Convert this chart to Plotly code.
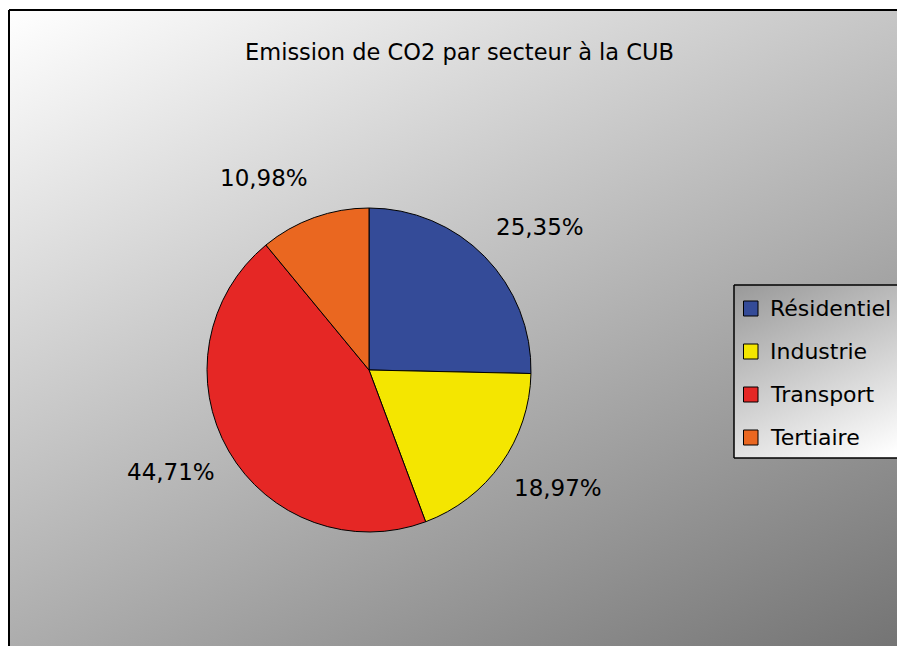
import base64
import math
import plotly.graph_objects as go

secteurs = ["Résidentiel", "Industrie", "Transport", "Tertiaire"]
emissions = [25.35, 18.97, 44.71, 10.98]
couleurs = ["#344b98", "#f4e600", "#e52725", "#ea6720"]
titre = "Emission de CO2 par secteur à la CUB"

W, H = 897, 646
FONT = "Comic Sans MS, DejaVu Sans, sans-serif"


def svg_gradient(w, h, x2, y2, c1, c2):
    svg = (
        f'<svg xmlns="http://www.w3.org/2000/svg" width="{w}" height="{h}" '
        f'viewBox="0 0 {w} {h}" preserveAspectRatio="none">'
        f'<defs><linearGradient id="g" gradientUnits="userSpaceOnUse" x1="0" y1="0" x2="{x2}" y2="{y2}">'
        f'<stop offset="0" stop-color="{c1}"/><stop offset="1" stop-color="{c2}"/></linearGradient></defs>'
        f'<rect width="{w}" height="{h}" fill="url(#g)"/></svg>'
    )
    return "data:image/svg+xml;base64," + base64.b64encode(svg.encode()).decode()


def px(x):
    return x / W


def py(y):
    return 1 - y / H


# pie placement (pixels)
cx, cy, R = 369, 370, 162

fig = go.Figure(go.Pie(
    labels=secteurs, values=emissions, sort=False, direction="clockwise",
    rotation=0, textinfo="none", showlegend=False, hoverinfo="label+percent",
    marker=dict(colors=couleurs, line=dict(color="black", width=1)),
    domain=dict(x=[px(cx - R), px(cx + R)], y=[py(cy + R), py(cy - R)]),
))

# background gradients (kept inside the page so nothing spills past its edge)
bw, bh = W - 9, H - 10
fig.add_layout_image(source=svg_gradient(bw, bh, 450, 914, "#ffffff", "#6c6c6c"),
                     xref="paper", yref="paper", x=px(9), y=py(10),
                     sizex=bw / W, sizey=bh / H, sizing="stretch", layer="below")
lx0, ly0, ly1 = 734, 285, 458
lw = W - lx0
fig.add_layout_image(source=svg_gradient(lw, ly1 - ly0, 90, 200, "#999999", "#ffffff"),
                     xref="paper", yref="paper", x=px(lx0), y=py(ly0),
                     sizex=lw / W, sizey=(ly1 - ly0) / H, sizing="stretch", layer="below")

# frame (top and left edges; right and bottom lie outside the picture)
edge = dict(color="black", width=2)
shapes = [
    dict(type="line", xref="paper", yref="paper", x0=px(9), y0=py(10), x1=1, y1=py(10), line=edge),
    dict(type="line", xref="paper", yref="paper", x0=px(9), y0=py(10), x1=px(9), y1=0, line=edge),
]
# legend box edges
ledge = dict(color="black", width=1.5)
shapes += [
    dict(type="line", xref="paper", yref="paper", x0=px(lx0), y0=py(ly0), x1=1, y1=py(ly0), line=ledge),
    dict(type="line", xref="paper", yref="paper", x0=px(lx0), y0=py(ly1), x1=1, y1=py(ly1), line=ledge),
    dict(type="line", xref="paper", yref="paper", x0=px(lx0), y0=py(ly0), x1=px(lx0), y1=py(ly1), line=ledge),
]
annotations = [dict(text=titre, xref="paper", yref="paper", x=px(459), y=py(52),
                    yanchor="middle", showarrow=False,
                    font=dict(family=FONT, size=22.5, color="black"))]

# legend entries
for i, (nom, col) in enumerate(zip(secteurs, couleurs)):
    yc = 308.5 + 43 * i
    shapes.append(dict(type="rect", xref="paper", yref="paper",
                       x0=px(743.5), x1=px(758), y0=py(yc - 7.5), y1=py(yc + 7.5),
                       fillcolor=col, line=dict(color="black", width=1)))
    annotations.append(dict(text=nom, xref="paper", yref="paper", x=px(768), y=py(yc),
                            xanchor="left", yanchor="middle", showarrow=False,
                            font=dict(family=FONT, size=22, color="black")))

# percentage labels outside the slices
total = sum(emissions)
cum = 0
for v in emissions:
    mid = (cum + v / 2) / total * 2 * math.pi
    cum += v
    s, c = math.sin(mid), math.cos(mid)
    x = cx + R * 1.08 * s
    y = cy - R * 1.26 * c
    annotations.append(dict(
        text=f"{v:.2f}".replace(".", ",") + "%", xref="paper", yref="paper",
        x=px(x), y=py(y), xanchor="left" if s > 0 else "right",
        yanchor="middle", showarrow=False,
        font=dict(family=FONT, size=23, color="black")))

fig.update_layout(width=W, height=H, margin=dict(l=0, r=0, t=0, b=0),
                  paper_bgcolor="white", plot_bgcolor="white",
                  shapes=shapes, annotations=annotations)

fig.write_html("out.html", config={"displayModeBar": False},
               post_script="document.body.style.margin='0';document.body.style.overflow='hidden';")
